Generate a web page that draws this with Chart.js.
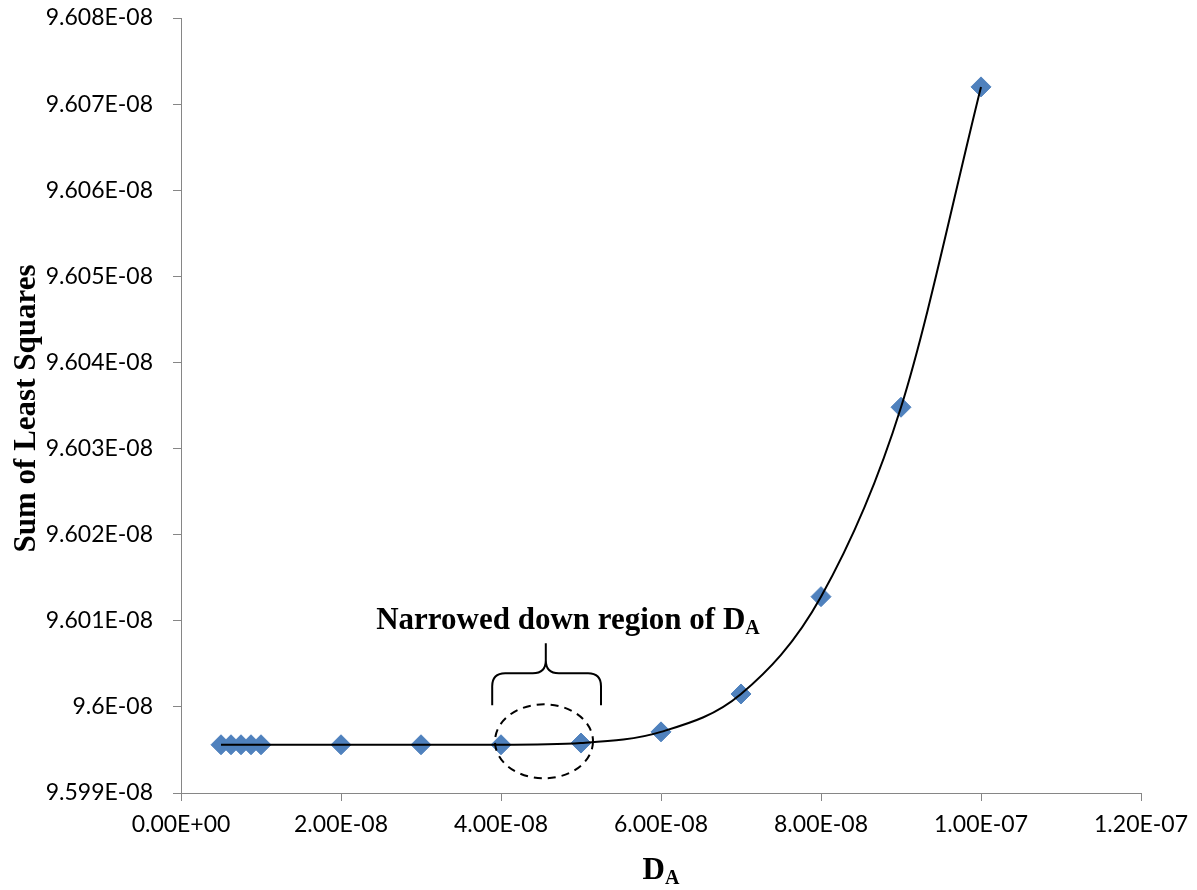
<!DOCTYPE html>
<html>
<head>
<meta charset="utf-8">
<title>Sum of Least Squares vs D_A</title>
<script src="https://cdn.jsdelivr.net/npm/chart.js@4.4.1/dist/chart.umd.min.js"></script>
<style>
  html, body { margin: 0; padding: 0; background: #ffffff; }
  #wrap { width: 1197px; height: 890px; }
</style>
</head>
<body>
<div id="wrap"><canvas id="chart" width="1197" height="890"></canvas></div>
<script>
// Diffusion coefficient D_A tried in the fit
const diffusionValues = [5e-9, 6.25e-9, 7.5e-9, 8.75e-9, 1e-8, 2e-8, 3e-8, 4e-8, 5e-8, 6e-8, 7e-8, 8e-8, 9e-8, 1e-7];
// Sum of least squares for each D_A
const sumSquares = [9.59956e-8, 9.59956e-8, 9.59956e-8, 9.59956e-8, 9.59956e-8, 9.59956e-8, 9.59956e-8,
                    9.59956e-8, 9.59958e-8, 9.59971e-8, 9.60015e-8, 9.60128e-8, 9.60348e-8, 9.60720e-8];

// Axis tick values
const xTickValues = [0, 2e-8, 4e-8, 6e-8, 8e-8, 1e-7, 1.2e-7];
const yTickValues = [9.599e-8, 9.600e-8, 9.601e-8, 9.602e-8, 9.603e-8, 9.604e-8, 9.605e-8, 9.606e-8, 9.607e-8, 9.608e-8];

// Text
const xTitleMain = 'D';
const xTitleSub = 'A';
const yTitle = 'Sum of Least Squares';
const noteMain = 'Narrowed down region of D';
const noteSub = 'A';

// Annotation anchors (data units)
const noteAnchor = { x: 2.44e-8, y: 9.60090e-8 };
const braceX = { left: 3.89e-8, mid: 4.56e-8, right: 5.25e-8 };
const braceY = { ends: 9.60002e-8, bar: 9.60039e-8, tip: 9.60074e-8 };
const ringX = { left: 3.925e-8, right: 5.15e-8 };
const ringY = { top: 9.60003e-8, bottom: 9.59917e-8 };

const AXIS_GREY = '#868686';
const MARK_BLUE = '#4F81BD';
const TITLE_FONT = '"Liberation Serif", "Times New Roman", serif';

// Excel "General"-style scientific labels, e.g. 9.6E-08, 9.601E-08
function formatGeneral(v) {
  const parts = v.toExponential(3).split('e');
  let mant = parts[0].replace(/0+$/, '').replace(/\.$/, '');
  const e = parseInt(parts[1], 10);
  const sign = e < 0 ? '-' : '+';
  return mant + 'E' + sign + String(Math.abs(e)).padStart(2, '0');
}
// Fixed two-decimal scientific labels, e.g. 2.00E-08
function formatSci2(v) {
  const parts = v.toExponential(2).split('e');
  const e = parseInt(parts[1], 10);
  const sign = e < 0 ? '-' : '+';
  return parts[0] + 'E' + sign + String(Math.abs(e)).padStart(2, '0');
}

const points = diffusionValues.map((x, i) => ({ x: x, y: sumSquares[i] }));

const annotationPlugin = {
  id: 'chartText',
  afterDraw(chart) {
    const ctx = chart.ctx;
    const xs = chart.scales.x;
    const ys = chart.scales.y;
    const area = chart.chartArea;
    ctx.save();
    ctx.fillStyle = '#000';
    ctx.strokeStyle = '#000';

    // Y axis title
    ctx.save();
    ctx.font = 'bold 31px ' + TITLE_FONT;
    ctx.textAlign = 'center';
    ctx.textBaseline = 'alphabetic';
    ctx.translate(35, (area.top + area.bottom) / 2 + 3);
    ctx.rotate(-Math.PI / 2);
    ctx.fillText(yTitle, 0, 0);
    ctx.restore();

    // X axis title with subscript
    ctx.font = 'bold 31px ' + TITLE_FONT;
    const wMain = ctx.measureText(xTitleMain).width;
    ctx.font = 'bold 20px ' + TITLE_FONT;
    const wSub = ctx.measureText(xTitleSub).width;
    let tx = (area.left + area.right) / 2 - (wMain + wSub) / 2;
    ctx.textAlign = 'left';
    ctx.textBaseline = 'alphabetic';
    ctx.font = 'bold 31px ' + TITLE_FONT;
    ctx.fillText(xTitleMain, tx, 879);
    ctx.font = 'bold 20px ' + TITLE_FONT;
    ctx.fillText(xTitleSub, tx + wMain, 884);

    // Annotation text with subscript
    const nx = xs.getPixelForValue(noteAnchor.x);
    const ny = ys.getPixelForValue(noteAnchor.y);
    ctx.font = 'bold 31px ' + TITLE_FONT;
    ctx.fillText(noteMain, nx, ny);
    const wNote = ctx.measureText(noteMain).width;
    ctx.font = 'bold 20px ' + TITLE_FONT;
    ctx.fillText(noteSub, nx + wNote, ny + 5);

    // Curly brace
    const x0 = xs.getPixelForValue(braceX.left);
    const xm = xs.getPixelForValue(braceX.mid);
    const x1 = xs.getPixelForValue(braceX.right);
    const yE = ys.getPixelForValue(braceY.ends);
    const yB = ys.getPixelForValue(braceY.bar);
    const yT = ys.getPixelForValue(braceY.tip);
    const r = 13;
    ctx.lineWidth = 2;
    ctx.setLineDash([]);
    ctx.beginPath();
    ctx.moveTo(x0, yE);
    ctx.lineTo(x0, yB + r);
    ctx.quadraticCurveTo(x0, yB, x0 + r, yB);
    ctx.lineTo(xm - r, yB);
    ctx.quadraticCurveTo(xm, yB, xm, yB - r);
    ctx.lineTo(xm, yT);
    ctx.moveTo(xm, yB - r);
    ctx.quadraticCurveTo(xm, yB, xm + r, yB);
    ctx.lineTo(x1 - r, yB);
    ctx.quadraticCurveTo(x1, yB, x1, yB + r);
    ctx.lineTo(x1, yE);
    ctx.stroke();

    // Dashed ring round the narrowed region
    const ex0 = xs.getPixelForValue(ringX.left);
    const ex1 = xs.getPixelForValue(ringX.right);
    const ey0 = ys.getPixelForValue(ringY.top);
    const ey1 = ys.getPixelForValue(ringY.bottom);
    ctx.setLineDash([8, 6]);
    ctx.lineWidth = 2;
    ctx.beginPath();
    ctx.ellipse((ex0 + ex1) / 2, (ey0 + ey1) / 2, (ex1 - ex0) / 2, (ey1 - ey0) / 2, 0, 0, Math.PI * 2);
    ctx.stroke();

    ctx.restore();
  }
};

new Chart(document.getElementById('chart'), {
  type: 'scatter',
  data: {
    datasets: [
      {
        label: 'fit',
        data: points,
        showLine: true,
        borderColor: '#000000',
        borderWidth: 2,
        pointRadius: 0,
        pointHoverRadius: 0,
        cubicInterpolationMode: 'monotone',
        order: 0
      },
      {
        label: 'Sum of Least Squares',
        data: points,
        showLine: false,
        pointStyle: 'rectRot',
        pointRadius: 10,
        pointBackgroundColor: MARK_BLUE,
        pointBorderColor: MARK_BLUE,
        pointBorderWidth: 1,
        order: 1
      }
    ]
  },
  options: {
    responsive: false,
    animation: false,
    devicePixelRatio: 1,
    layout: { padding: { top: 18, right: 56, bottom: 0, left: 0 } },
    plugins: { legend: { display: false }, tooltip: { enabled: false } },
    scales: {
      x: {
        type: 'linear',
        min: 0,
        max: 1.2e-7,
        afterBuildTicks(scale) { scale.ticks = xTickValues.map(v => ({ value: v })); },
        afterFit(scale) {
          scale.height = 97;
          scale.paddingLeft = 0;
          scale.paddingRight = 56;
        },
        ticks: {
          callback: v => formatSci2(v),
          font: { family: 'Lato', size: 23 },
          color: '#000000',
          padding: 10,
          maxRotation: 0,
          autoSkip: false
        },
        grid: { display: true, drawOnChartArea: false, drawTicks: true, tickLength: 8, color: AXIS_GREY, lineWidth: 1 },
        border: { display: true, color: AXIS_GREY, width: 1 }
      },
      y: {
        type: 'linear',
        min: 9.599e-8,
        max: 9.608e-8,
        afterBuildTicks(scale) { scale.ticks = yTickValues.map(v => ({ value: v })); },
        afterFit(scale) {
          scale.width = 181;
          scale.paddingTop = 18;
          scale.paddingBottom = 0;
        },
        ticks: {
          callback: v => formatGeneral(v),
          font: { family: 'Lato', size: 23 },
          color: '#000000',
          padding: 20,
          autoSkip: false
        },
        grid: { display: true, drawOnChartArea: false, drawTicks: true, tickLength: 8, color: AXIS_GREY, lineWidth: 1 },
        border: { display: true, color: AXIS_GREY, width: 1 }
      }
    }
  },
  plugins: [annotationPlugin]
});
</script>
</body>
</html>
